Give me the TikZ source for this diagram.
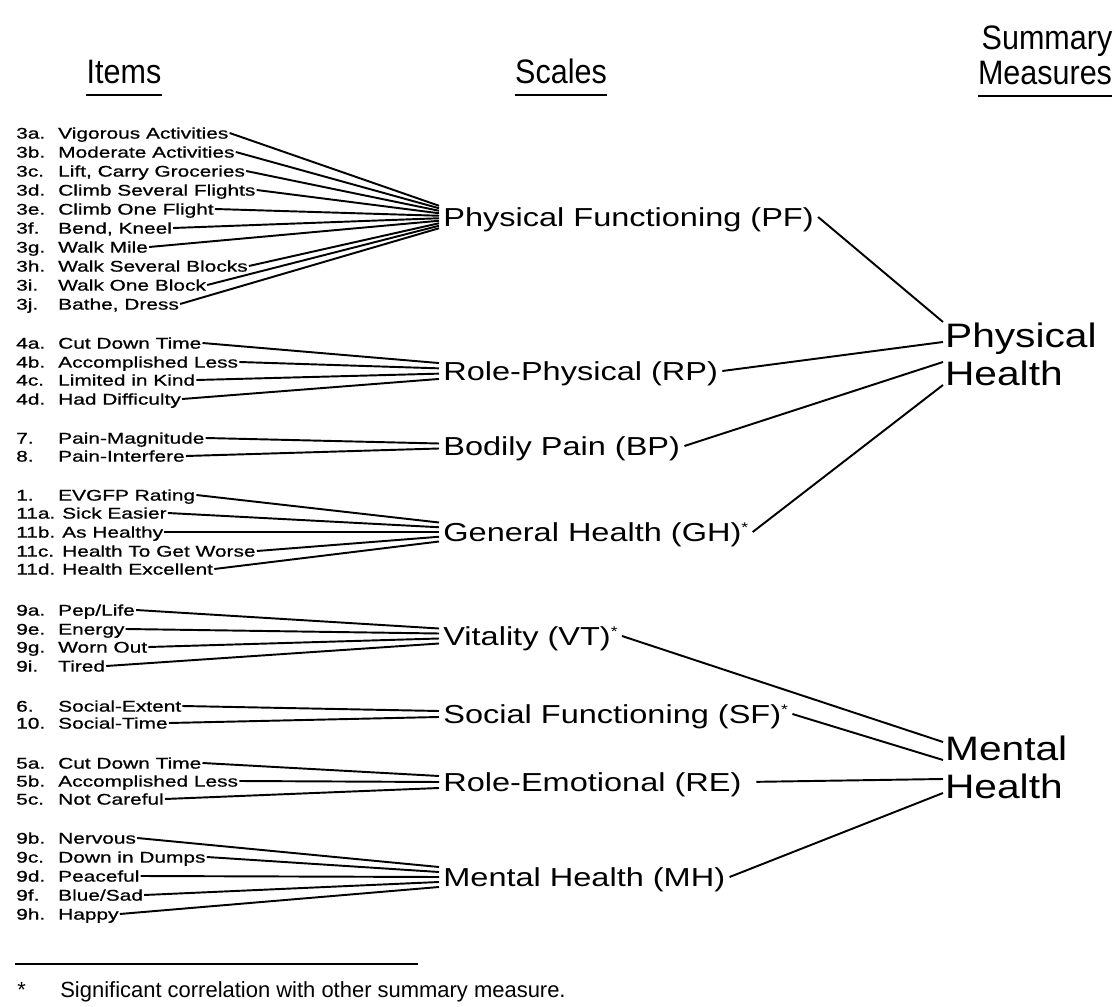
\documentclass[tikz,border=0pt]{standalone}
\usepackage{fontspec}
\setmainfont{Liberation Sans}
\newfontfamily\itemfont[FakeStretch=1.35, FakeBold=0.8]{Liberation Sans}
\newfontfamily\scalefont[FakeStretch=1.25]{Liberation Sans}
\newfontfamily\bigfont[FakeStretch=1.2]{Liberation Sans}
\newfontfamily\headfont[FakeStretch=0.9]{Liberation Sans}
\usetikzlibrary{calc}
\newcommand{\corrstar}{\raisebox{5pt}{\fontsize{8}{8}\selectfont *}}
\tikzset{
    itemnum/.style = {
        anchor=west,
        inner sep=0.5pt,
        font=\itemfont\fontsize{8.8}{10.6}\selectfont,
        text height=6.4pt,
        text depth=0pt
    },
    itemtext/.style = {
        itemnum
    },
    scalenode/.style = {
        anchor=west,
        inner xsep=2.3pt,
        inner ysep=1pt,
        font=\scalefont\fontsize{14.8}{17}\selectfont,
        text height=10.6pt,
        text depth=0pt
    },
    summarynode/.style = {
        anchor=west,
        align=left,
        inner sep=1pt,
        font=\bigfont\fontsize{19.3}{21.6}\selectfont
    },
    headnode/.style = {
        anchor=base,
        inner sep=0pt,
        font=\headfont\fontsize{19.3}{21}\selectfont
    },
    notenode/.style = {
        anchor=base west,
        inner sep=0pt,
        font=\fontsize{12.5}{15}\selectfont
    },
    link/.style = {line width=1.1pt},
    underline/.style = {line width=1.6pt},
    rule/.style = {line width=1.2pt}
}

\begin{document}
\begin{tikzpicture}[x=0.02cm, y=-0.02cm]
    \useasboundingbox (0,0) rectangle (1117,1007);

    \node[headnode] (items) at (124,84) {Items};
    \node[headnode] (scales) at (561,84) {Scales};
    \node[headnode] (summ) at (1047,50) {Summary};
    \node[headnode] (meas) at (1045,85) {Measures};
    \foreach \h in {items,scales,meas}
        \draw[underline] ($(\h.base west)+(0,11)$) -- ($(\h.base east)+(0,11)$);

    \node[scalenode] (pf) at (439,217) {Physical Functioning (PF)};
    \node[scalenode] (rp) at (439,371) {Role-Physical (RP)};
    \node[scalenode] (bp) at (439,446) {Bodily Pain (BP)};
    \node[scalenode] (gh) at (439,532) {General Health (GH)\corrstar};
    \node[scalenode] (vt) at (439,636) {Vitality (VT)\corrstar};
    \node[scalenode] (sf) at (439,714) {Social Functioning (SF)\corrstar};
    \node[scalenode] (re) at (439,782) {Role-Emotional (RE)};
    \node[scalenode] (mh) at (439,877) {Mental Health (MH)};

    \node[summarynode] (ph) at (943,354) {Physical\\Health};
    \node[summarynode] (mhs) at (943,767) {Mental\\Health};

    \foreach \n/\y/\txt [count=\k] in {3a/133/Vigorous Activities, 3b/152/Moderate Activities,
            3c/171/{Lift, Carry Groceries}, 3d/190/Climb Several Flights, 3e/209/Climb One Flight,
            3f/228/{Bend, Kneel}, 3g/247/Walk Mile, 3h/266/Walk Several Blocks,
            3i/285/Walk One Block, 3j/304/{Bathe, Dress}} {
        \node[itemnum] (n\n) at (15,\y) {\n.};
        \node[itemtext] (i\n) at (57,\y) {\txt};
        \draw[link] (i\n.east) -- ($(pf.west)+(0,{(\k-5.5)*2.5})$);
    }
    \foreach \n/\y/\txt [count=\k] in {4a/343/Cut Down Time, 4b/362/Accomplished Less,
            4c/380/Limited in Kind, 4d/399/Had Difficulty} {
        \node[itemnum] (n\n) at (15,\y) {\n.};
        \node[itemtext] (i\n) at (57,\y) {\txt};
        \draw[link] (i\n.east) -- ($(rp.west)+(0,{(\k-2.5)*5.3})$);
    }
    \foreach \n/\y/\txt [count=\k] in {7/438/Pain-Magnitude, 8/456/Pain-Interfere} {
        \node[itemnum] (n\n) at (15,\y) {\n.};
        \node[itemtext] (i\n) at (57,\y) {\txt};
        \draw[link] (i\n.east) -- ($(bp.west)+(0,{(\k-1.5)*5})$);
    }
    \foreach \n/\y/\x/\txt [count=\k] in {1/495/57/EVGFP Rating, 11a/513/61/Sick Easier,
            11b/532/61/As Healthy, 11c/551/61/Health To Get Worse, 11d/569/61/Health Excellent} {
        \node[itemnum] (n\n) at (15,\y) {\n.};
        \node[itemtext] (i\n) at (\x,\y) {\txt};
        \draw[link] (i\n.east) -- ($(gh.west)+(0,{(\k-3)*4.75})$);
    }
    \foreach \n/\y/\txt [count=\k] in {9a/610/{Pep/Life}, 9e/629/Energy, 9g/647/Worn Out, 9i/666/Tired} {
        \node[itemnum] (n\n) at (15,\y) {\n.};
        \node[itemtext] (i\n) at (57,\y) {\txt};
        \draw[link] (i\n.east) -- ($(vt.west)+(0,{(\k-2.5)*5})$);
    }
    \foreach \n/\y/\txt [count=\k] in {6/706/Social-Extent, 10/723/Social-Time} {
        \node[itemnum] (n\n) at (15,\y) {\n.};
        \node[itemtext] (i\n) at (57,\y) {\txt};
        \draw[link] (i\n.east) -- ($(sf.west)+(0,{(\k-1.5)*6})$);
    }
    \foreach \n/\y/\txt [count=\k] in {5a/763/Cut Down Time, 5b/781/Accomplished Less, 5c/799/Not Careful} {
        \node[itemnum] (n\n) at (15,\y) {\n.};
        \node[itemtext] (i\n) at (57,\y) {\txt};
        \draw[link] (i\n.east) -- ($(re.west)+(0,{(\k-2)*6})$);
    }
    \foreach \n/\y/\txt [count=\k] in {9b/838/Nervous, 9c/857/Down in Dumps, 9d/876/Peaceful,
            9f/895/{Blue/Sad}, 9h/914/Happy} {
        \node[itemnum] (n\n) at (15,\y) {\n.};
        \node[itemtext] (i\n) at (57,\y) {\txt};
        \draw[link] (i\n.east) -- ($(mh.west)+(0,{(\k-3)*5})$);
    }

    \draw[link] (pf.east) -- ($(ph.west)+(0,-32)$);
    \draw[link] (rp.east) -- ($(ph.west)+(0,-12)$);
    \draw[link] (bp.east) -- ($(ph.west)+(0,8)$);
    \draw[link] (gh.east) -- ($(ph.west)+(0,31)$);
    \draw[link] (vt.east) -- ($(mhs.west)+(0,-25)$);
    \draw[link] (sf.east) -- ($(mhs.west)+(0,-7)$);
    \draw[link, shorten <=6pt] (re.east) -- ($(mhs.west)+(0,12)$);
    \draw[link] (mh.east) -- ($(mhs.west)+(0,26)$);

    \coordinate (rulestart) at (15,964);
    \coordinate (ruleend) at (418,964);
    \draw[rule] (rulestart) -- (ruleend);
    \node[notenode] (notestar) at (17,997) {*};
    \node[notenode] (note) at (60,997) {Significant correlation with other summary measure.};
\end{tikzpicture}
\end{document}
